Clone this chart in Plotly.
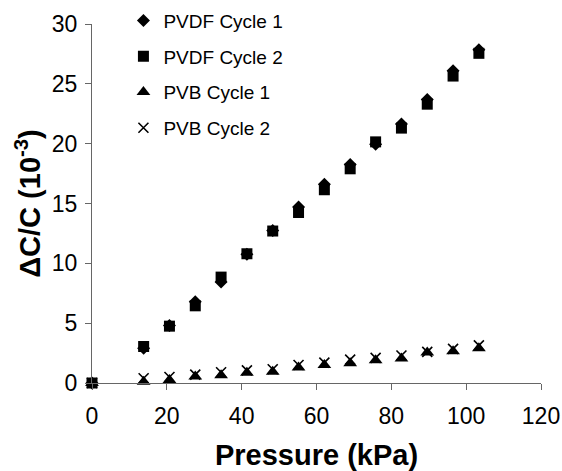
import plotly.graph_objects as go

pressure = [0, 13.8, 20.7, 27.6, 34.5, 41.4, 48.3, 55.2, 62.1, 69.0, 75.8, 82.7, 89.6, 96.5, 103.4]
pvdf_c1 = [0, 2.9, 4.8, 6.8, 8.45, 10.75, 12.75, 14.7, 16.6, 18.25, 19.95, 21.65, 23.7, 26.1, 27.85]
pvdf_c2 = [0, 3.05, 4.75, 6.45, 8.85, 10.8, 12.7, 14.25, 16.15, 17.9, 20.15, 21.3, 23.3, 25.65, 27.55]
pvb_c1 = [0, 0.1, 0.25, 0.55, 0.65, 0.85, 0.95, 1.3, 1.5, 1.65, 1.9, 2.05, 2.55, 2.65, 2.9]
pvb_c2 = [0, 0.4, 0.5, 0.7, 0.9, 1.05, 1.15, 1.5, 1.7, 1.95, 2.1, 2.3, 2.6, 2.85, 3.15]

x_ticks = [0, 20, 40, 60, 80, 100, 120]
y_ticks = [0, 5, 10, 15, 20, 25, 30]

series = [
    ("PVDF Cycle 1", pvdf_c1, dict(symbol="diamond", size=10, color="black")),
    ("PVDF Cycle 2", pvdf_c2, dict(symbol="square", size=11, color="black")),
    ("PVB Cycle 1", pvb_c1, dict(symbol="triangle-up", size=12, color="black")),
    ("PVB Cycle 2", pvb_c2, dict(symbol="x-thin", size=10, color="black",
                                 line=dict(width=1.6, color="black"))),
]

fig = go.Figure()
for i, (name, vals, mk) in enumerate(series):
    fig.add_trace(go.Scatter(x=pressure, y=vals, mode="markers", name=name,
                             marker=mk, cliponaxis=False, legendgroup=f"g{i}"))

font = "Liberation Sans, Arial, sans-serif"
fig.update_layout(
    width=562, height=471,
    margin=dict(l=92, r=21, t=24, b=88, autoexpand=False),
    paper_bgcolor="white", plot_bgcolor="white",
    font=dict(family=font, color="black"),
    showlegend=True,
    legend=dict(x=0.07, y=1.062, xanchor="left", yanchor="top",
                font=dict(size=19, family=font), tracegroupgap=8,
                bgcolor="rgba(0,0,0,0)", itemwidth=30),
    xaxis=dict(range=[0, 120], tickvals=x_ticks, ticks="outside", ticklen=6,
               tickcolor="#666", showline=True, linecolor="#666", linewidth=1,
               showgrid=False, zeroline=False, tickfont=dict(size=23),
               ticklabelstandoff=6, automargin=False,
               title=dict(text="<b>Pressure (kPa)</b>", font=dict(size=29), standoff=17)),
    yaxis=dict(range=[0, 30], tickvals=y_ticks, ticks="outside", ticklen=6,
               tickcolor="#666", showline=True, linecolor="#666", linewidth=1,
               showgrid=False, zeroline=False, tickfont=dict(size=23),
               ticklabelstandoff=3, automargin=False,
               title=dict(text="<b>ΔC/C (10<sup>-3</sup>)</b>", font=dict(size=29), standoff=2)),
)
fig.write_html("out.html")
